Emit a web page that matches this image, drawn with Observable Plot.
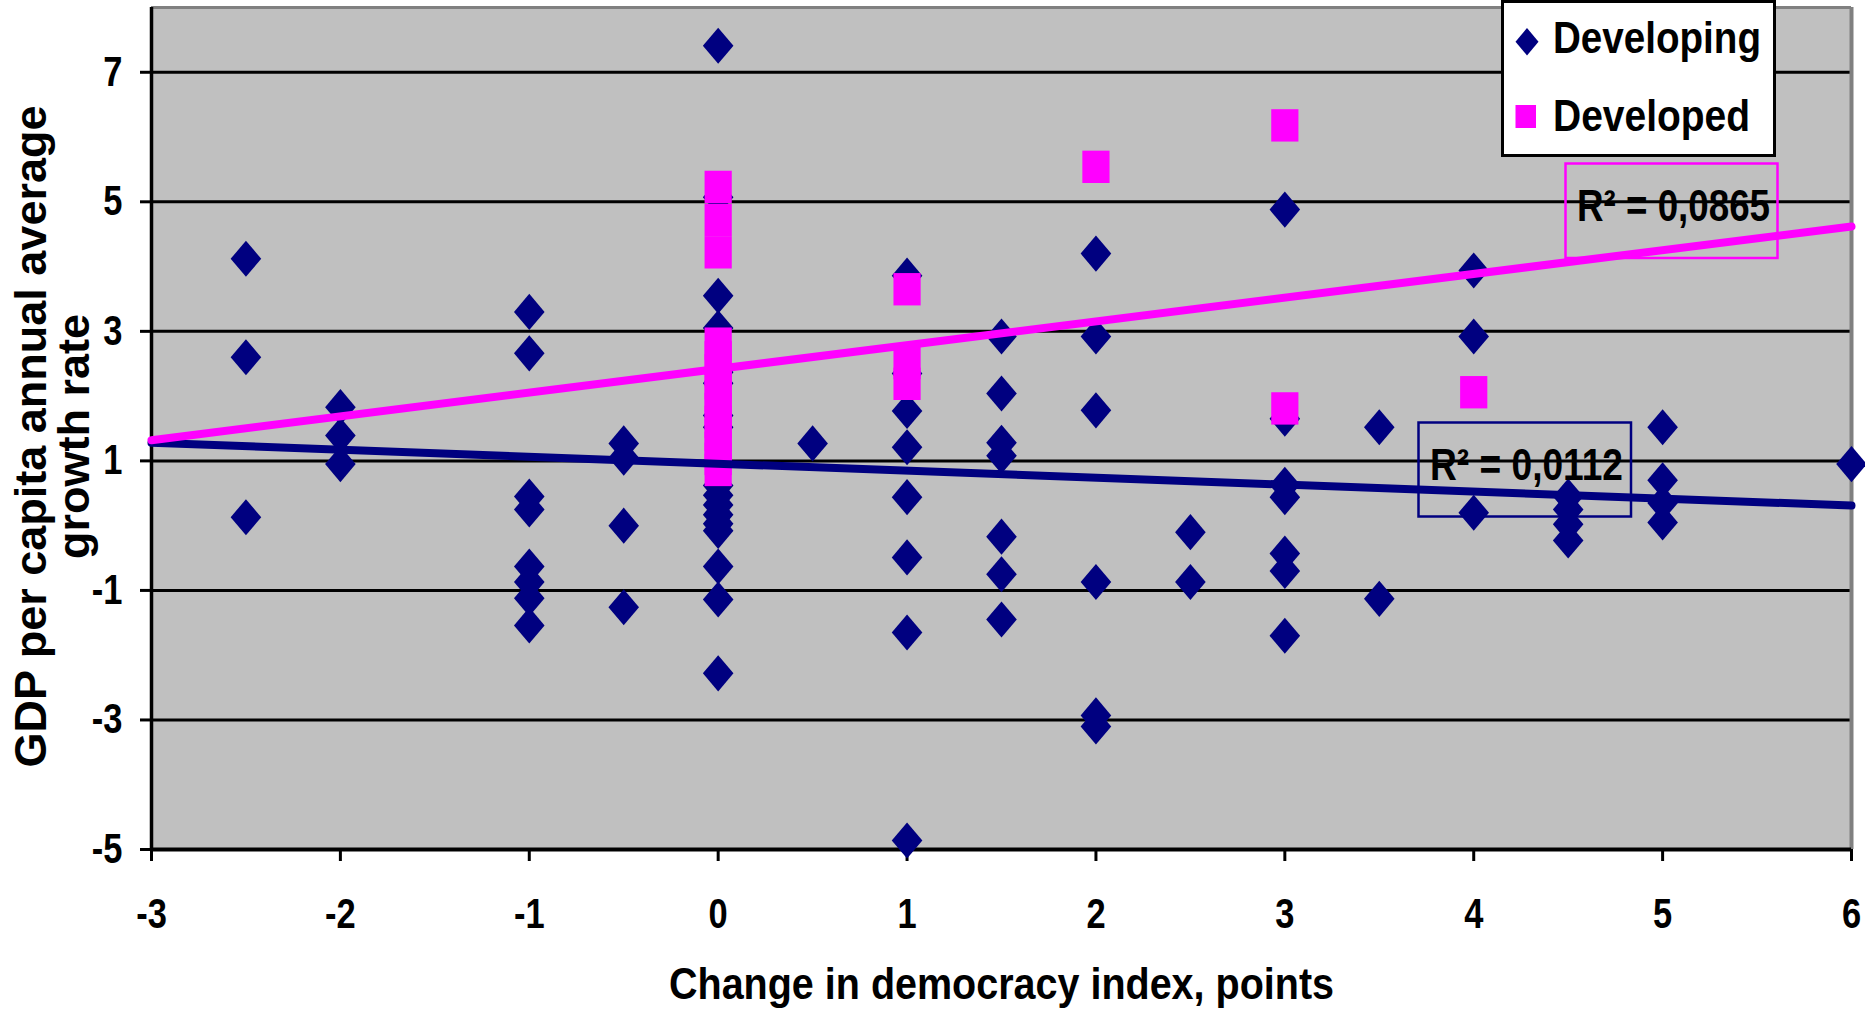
<!DOCTYPE html>
<html>
<head>
<meta charset="utf-8">
<script src="https://cdn.jsdelivr.net/npm/d3@7"></script>
<script src="https://cdn.jsdelivr.net/npm/@observablehq/plot@0.6"></script>
<style>
html, body { margin: 0; padding: 0; background: #ffffff; }
#chart { position: relative; width: 1865px; height: 1010px; }
</style>
</head>
<body>
<div id="chart"></div>
<script>
// ---- Data ----
const seriesNames = ["Developing", "Developed"];

// Developing countries (navy diamonds)
const developingX = [
  -2.5, -2.5, -2.5,
  -2, -2, -2,
  -1, -1, -1, -1, -1, -1, -1, -1,
  -0.5, -0.5, -0.5, -0.5,
  0, 0, 0, 0, 0, 0, 0, 0, 0, 0, 0, 0, 0, 0, 0, 0, 0,
  0.5,
  1, 1, 1, 1, 1, 1, 1, 1,
  1.5, 1.5, 1.5, 1.5, 1.5, 1.5, 1.5,
  2, 2, 2, 2, 2, 2,
  2.5, 2.5,
  3, 3, 3, 3, 3, 3, 3,
  3.5, 3.5,
  4, 4, 4,
  4.5, 4.5, 4.5, 4.5,
  5, 5, 5, 5,
  6
];
const developingY = [
  4.12, 2.60, 0.13,
  1.83, 1.39, 0.95,
  3.30, 2.66, 0.45, 0.25, -0.63, -0.87, -1.12, -1.54,
  1.27, 1.05, 0.00, -1.26,
  7.41, 5.07, 3.55, 3.05, 2.37, 2.20, 1.70, 1.52, 0.62, 0.47, 0.32, 0.17, 0.03, -0.08, -0.63, -1.14, -2.28,
  1.27,
  3.86, 2.35, 1.77, 1.21, 0.44, -0.49, -1.65, -4.86,
  2.92, 2.04, 1.28, 1.08, -0.17, -0.75, -1.45,
  4.20, 2.92, 1.78, -0.87, -2.93, -3.10,
  -0.10, -0.87,
  4.88, 1.65, 0.63, 0.44, -0.43, -0.70, -1.70,
  1.52, -1.13,
  3.94, 2.92, 0.20,
  0.45, 0.25, 0.02, -0.23,
  1.52, 0.70, 0.35, 0.05,
  0.95
];

// Developed countries (magenta squares)
const developedX = [
  0, 0, 0, 0, 0, 0, 0, 0, 0, 0, 0, 0, 0, 0,
  1, 1, 1,
  2,
  3, 3,
  4
];
const developedY = [
  5.23, 4.72, 4.22, 2.81, 2.60, 2.40, 2.20, 2.00, 1.80, 1.60, 1.40, 1.20, 1.03, 0.86,
  3.65, 2.51, 2.19,
  5.54,
  6.18, 1.81,
  2.06
];

// Linear trend lines (end values)
const trendX = [-3, 6];
const developingTrendY = [1.28, 0.31];
const developedTrendY = [1.32, 4.62];
const r2Values = ["0,0112", "0,0865"];

// Axes
const xTicks = [-3, -2, -1, 0, 1, 2, 3, 4, 5, 6];
const yTicks = [-5, -3, -1, 1, 3, 5, 7];
const yGridValues = [-3, -1, 1, 3, 5, 7];
const xDomain = [-3, 6];
const yDomain = [-5, 8];
const xTitle = "Change in democracy index, points";
const yTitleLines = ["GDP per capita annual average", "growth rate"];

// ---- Build tables ----
const developing = developingX.map((x, i) => ({x, y: developingY[i]}));
const developed = developedX.map((x, i) => ({x, y: developedY[i]}));
const developingTrend = trendX.map((x, i) => ({x, y: developingTrendY[i]}));
const developedTrend = trendX.map((x, i) => ({x, y: developedTrendY[i]}));

const NAVY = "#000080";
const PINK = "#FF00FF";
const FONT = '"Liberation Sans", Arial, Helvetica, sans-serif';

// Tall (Excel-like, slightly stretched) marker shapes
const tallDiamond = {
  draw(ctx, size) {
    const r = Math.sqrt(size / Math.PI);
    const w = r, h = r * 1.18;
    ctx.moveTo(0, -h); ctx.lineTo(w, 0); ctx.lineTo(0, h); ctx.lineTo(-w, 0); ctx.closePath();
  }
};
const tallSquare = {
  draw(ctx, size) {
    const r = Math.sqrt(size / Math.PI);
    const w = r, h = r * 1.19;
    ctx.moveTo(-w, -h); ctx.lineTo(w, -h); ctx.lineTo(w, h); ctx.lineTo(-w, h); ctx.closePath();
  }
};

const plot = Plot.plot({
  width: 1865,
  height: 1010,
  marginLeft: 151,
  marginRight: 14,
  marginTop: 7,
  marginBottom: 161,
  x: {domain: xDomain, label: null},
  y: {domain: yDomain, label: null},
  style: {
    fontFamily: FONT,
    fontSize: "42px",
    fontWeight: "bold",
    color: "#000",
    background: "#fff",
    overflow: "visible"
  },
  marks: [
    Plot.frame({fill: "#C0C0C0", stroke: "none"}),
    Plot.gridY(yGridValues, {stroke: "#000", strokeOpacity: 1, strokeWidth: 3}),
    Plot.ruleY([yDomain[1]], {stroke: "#808080", strokeWidth: 3}),
    Plot.ruleX([xDomain[1]], {stroke: "#808080", strokeWidth: 4}),
    Plot.axisY({ticks: yTicks, tickSize: 11, tickPadding: 18, tickFormat: d => String(d),
      strokeWidth: 3, fontSize: 42, fontFamily: FONT, fontWeight: "bold", label: null}),
    Plot.axisX({ticks: xTicks, tickSize: 12, tickPadding: 37, tickFormat: d => String(d),
      strokeWidth: 3, fontSize: 42, fontFamily: FONT, fontWeight: "bold", label: null}),
    Plot.ruleX([xDomain[0]], {stroke: "#000", strokeWidth: 3.5}),
    Plot.ruleY([yDomain[0]], {stroke: "#000", strokeWidth: 4}),
    Plot.dot(developing, {x: "x", y: "y", symbol: tallDiamond, r: 15.3, fill: NAVY, stroke: "none"}),
    Plot.dot(developed, {x: "x", y: "y", symbol: tallSquare, r: 13.6, fill: PINK, stroke: "none"}),
    Plot.line(developingTrend, {x: "x", y: "y", stroke: NAVY, strokeWidth: 8}),
    Plot.line(developedTrend, {x: "x", y: "y", stroke: PINK, strokeWidth: 8}),
    Plot.text([xTitle], {frameAnchor: "bottom", dy: 149, lineAnchor: "bottom", textAnchor: "middle",
      fontFamily: FONT, fontSize: 44, fontWeight: "bold", fill: "#000"}),
    Plot.text([yTitleLines[0]], {frameAnchor: "left", rotate: -90, dx: -106, dy: 8, lineAnchor: "bottom",
      textAnchor: "middle", fontFamily: FONT, fontSize: 45, fontWeight: "bold", fill: "#000"}),
    Plot.text([yTitleLines[1]], {frameAnchor: "left", rotate: -90, dx: -63, dy: 8, lineAnchor: "bottom",
      textAnchor: "middle", fontFamily: FONT, fontSize: 45, fontWeight: "bold", fill: "#000"})
  ]
});

document.getElementById("chart").appendChild(plot);

const svg = d3.select(plot);

// Arial-Narrow look: horizontally condense text to a given width
function condense(el, factor, width) {
  const w = el.getComputedTextLength();
  el.setAttribute("textLength", width != null ? width : w * factor);
  el.setAttribute("lengthAdjust", "spacingAndGlyphs");
}
svg.selectAll('g[aria-label="x-axis tick label"] text, g[aria-label="y-axis tick label"] text')
  .each(function() { condense(this, 0.82); });
svg.selectAll("text").filter(function() { return this.textContent === xTitle; })
  .each(function() { condense(this, 0, 665); });

// ---- R² annotation boxes ----
const ann = svg.append("g").attr("font-family", FONT).attr("font-weight", "bold").attr("text-anchor", "start");
function r2Box(x, y, w, h, color, tx, ty, width, value) {
  ann.append("rect").attr("x", x).attr("y", y).attr("width", w).attr("height", h)
    .attr("fill", "none").attr("stroke", color).attr("stroke-width", 2.5);
  const t = ann.append("text").attr("x", tx).attr("y", ty).attr("font-size", 44).attr("fill", "#000")
    .attr("text-anchor", "start").text("R\u00B2 = " + value);
  condense(t.node(), 0, width);
}
r2Box(1418.5, 422.5, 212.5, 94, NAVY, 1430, 480, 193, r2Values[0]);
r2Box(1565.5, 163.5, 212, 94.5, PINK, 1577, 221, 193, r2Values[1]);

// ---- Legend ----
const lg = svg.append("g").attr("font-family", FONT).attr("font-weight", "bold").attr("text-anchor", "start");
lg.append("rect").attr("x", 1502.5).attr("y", 1.5).attr("width", 272).attr("height", 154)
  .attr("fill", "#fff").attr("stroke", "#000").attr("stroke-width", 3);
lg.append("path").attr("d", "M1527,28L1538.5,41.7L1527,55.4L1515.5,41.7Z").attr("fill", NAVY);
lg.append("rect").attr("x", 1515.5).attr("y", 105).attr("width", 20.5).attr("height", 23).attr("fill", PINK);
const l1 = lg.append("text").attr("x", 1553).attr("y", 53).attr("font-size", 44).attr("text-anchor", "start").text(seriesNames[0]);
const l2 = lg.append("text").attr("x", 1553).attr("y", 131).attr("font-size", 44).attr("text-anchor", "start").text(seriesNames[1]);
condense(l1.node(), 0, 208);
condense(l2.node(), 0, 197);
</script>
</body>
</html>
